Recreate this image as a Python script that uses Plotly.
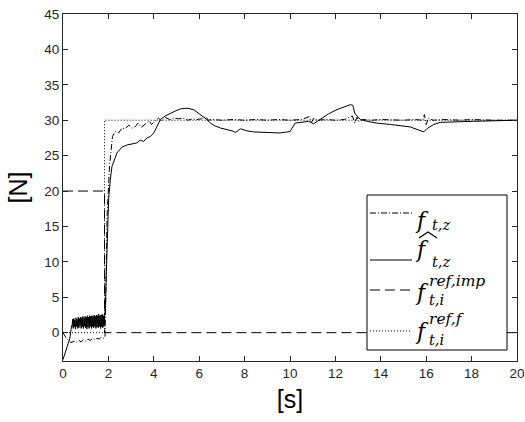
import plotly.graph_objects as go

# ---- data ----
t_ref_f = [0, 1.83, 1.83, 20]
v_ref_f = [0, 0, 30, 30]

t_ref_imp = [0, 1.83, 1.83, 20]
v_ref_imp = [20, 20, 0, 0]

t_meas = [0, 0.15, 0.35, 0.5, 0.6, 0.7, 0.8, 0.9, 1.0, 1.1, 1.2, 1.3, 1.4, 1.5, 1.6, 1.7, 1.8, 1.85,
          1.88, 1.94, 2.05, 2.18, 2.30, 2.45, 2.6, 2.74, 2.9, 3.05, 3.19, 3.3, 3.45, 3.63, 3.8, 3.9,
          4.07, 4.2, 4.35, 4.5, 4.7, 4.9, 5.1, 5.3, 5.5, 5.7, 5.9, 6.1, 6.3, 6.4, 6.6, 7.0, 7.5, 8.0,
          8.5, 9.0, 9.5, 10.0, 10.5, 10.85, 10.95, 11.05, 11.2, 11.6, 12.0, 12.4, 12.75, 12.85, 12.95,
          13.05, 13.2, 13.6, 14.0, 14.5, 15.0, 15.5, 15.85, 15.92, 16.0, 16.1, 16.3, 16.8, 17.5, 18.0,
          18.5, 19.0, 19.5, 20.0]
v_meas = [0, -0.8, -1.4, -1.2, -1.4, -1.1, -1.3, -1.0, -1.2, -0.9, -1.1, -0.8, -1.0, -0.8, -0.9, -0.6, -0.8, -0.5,
          3.75, 16.4, 23.5, 27.7, 28.4, 28.2, 28.9, 28.8, 29.3, 28.9, 29.1, 29.6, 29.0, 29.5, 29.9, 29.4,
          29.85, 30.3, 29.9, 30.4, 30.1, 30.3, 30.2, 30.3, 30.0, 30.2, 30.1, 30.2, 30.5, 30.0, 30.1, 30.0, 30.1, 30.0,
          30.1, 30.0, 30.1, 30.0, 30.1, 30.5, 29.7, 30.3, 30.0, 30.1, 30.0, 30.1, 30.6, 29.6, 30.4,
          29.8, 30.1, 30.0, 30.1, 30.0, 30.0, 30.1, 30.0, 30.8, 29.4, 30.3, 30.0, 30.1, 30.0, 30.1,
          30.0, 30.0, 30.0, 30.0]

t_est = [0, 0.15, 0.3, 0.38,
         0.400, 0.425, 0.450, 0.475, 0.500, 0.525, 0.550, 0.575, 0.600, 0.625, 0.650, 0.675,
         0.700, 0.725, 0.750, 0.775, 0.800, 0.825, 0.850, 0.875, 0.900, 0.925, 0.950, 0.975,
         1.000, 1.025, 1.050, 1.075, 1.100, 1.125, 1.150, 1.175, 1.200, 1.225, 1.250, 1.275,
         1.300, 1.325, 1.350, 1.375, 1.400, 1.425, 1.450, 1.475, 1.500, 1.525, 1.550, 1.575,
         1.600, 1.625, 1.650, 1.675, 1.700, 1.725, 1.750, 1.775, 1.800, 1.825,
         1.86, 1.94, 2.01, 2.08, 2.16, 2.38, 2.6, 2.82, 3.05, 3.26, 3.4, 3.55, 3.7, 3.85, 4.0,
         4.07, 4.2, 4.29, 4.5, 4.73, 4.95, 5.17, 5.46, 5.75, 6.05, 6.34, 6.49, 6.7, 6.93, 7.22,
         7.45, 7.59, 7.66, 7.81, 8.1, 8.4, 8.7, 9.0, 9.57, 10.0, 10.23, 10.5, 10.82, 11.04, 11.26,
         11.7, 12.07, 12.44, 12.66, 12.77, 12.85, 12.95, 13.1, 13.4, 13.8, 14.42, 15.3, 15.89,
         16.03, 16.33, 16.62, 18.09, 20.0]
v_est = [-3.8, -2.3, -0.8, 1.0,
         0.9, 1.9, 0.6, 2.0, 0.8, 1.8, 0.5, 2.1, 0.9, 1.9, 0.6, 2.2,
         0.7, 2.0, 1.0, 2.2, 0.6, 2.1, 0.8, 2.3, 0.6, 2.1, 0.9, 2.3,
         0.7, 2.2, 0.5, 2.4, 0.8, 2.2, 0.6, 2.4, 0.9, 2.3, 0.6, 2.4,
         0.8, 2.3, 0.7, 2.5, 0.9, 2.3, 0.6, 2.5, 0.8, 2.4, 0.7, 2.6,
         0.9, 2.4, 0.6, 2.5, 0.8, 2.6, 0.7, 2.4, 0.9, 2.6,
         3.0, 11.75, 18.8, 21.5, 23.5, 25.4, 26.2, 26.5, 26.7, 26.8, 27.2, 27.0, 27.5, 27.7, 28.2,
         28.7, 29.5, 30.1, 30.6, 31.0, 31.3, 31.6, 31.7, 31.5, 30.8, 30.1, 29.6, 29.2, 28.9, 28.7,
         28.5, 28.3, 28.4, 28.8, 28.5, 28.35, 28.3, 28.2, 28.2, 28.4, 29.6, 29.7, 29.85, 29.5, 30.0,
         30.9, 31.5, 32.0, 32.2, 32.1, 31.0, 30.6, 30.1, 29.85, 29.6, 29.4, 29.05, 28.35,
         28.8, 29.4, 29.7, 29.85, 30.0]

x_ticks = [0, 2, 4, 6, 8, 10, 12, 14, 16, 18, 20]
y_ticks = [0, 5, 10, 15, 20, 25, 30, 35, 40, 45]

# legend labels: (main symbol, superscript, subscript)
leg_main = ["f", "f", "f", "f"]
leg_sup = ["", "", "ref,imp", "ref,f"]
leg_sub = ["t,z", "t,z", "t,i", "t,i"]

DASH_MEAS = "6px,2px,1px,2px"
DASH_IMP = "10px,5px"
DASH_REF = "1px,2px"

fig = go.Figure()
fig.add_trace(go.Scatter(x=t_meas, y=v_meas, mode="lines",
                         line=dict(color="black", width=1, dash=DASH_MEAS)))
fig.add_trace(go.Scatter(x=t_est, y=v_est, mode="lines",
                         line=dict(color="black", width=1)))
fig.add_trace(go.Scatter(x=t_ref_imp, y=v_ref_imp, mode="lines",
                         line=dict(color="black", width=1, dash=DASH_IMP)))
fig.add_trace(go.Scatter(x=t_ref_f, y=v_ref_f, mode="lines",
                         line=dict(color="black", width=1, dash=DASH_REF)))

axis_common = dict(showline=True, linecolor="#262626", linewidth=1, mirror="ticks",
                   ticks="inside", ticklen=5, tickcolor="#262626", showgrid=False,
                   zeroline=False, automargin=False,
                   tickfont=dict(family="Liberation Sans", size=13.5, color="#262626"))

fig.update_xaxes(range=[0, 20], tickvals=x_ticks,
                 title=dict(text="[s]", font=dict(family="Liberation Sans", size=25, color="black"), standoff=10),
                 **axis_common)
fig.update_yaxes(range=[-4, 45], tickvals=y_ticks,
                 title=dict(text="[N]", font=dict(family="Liberation Sans", size=25, color="black"), standoff=9),
                 **axis_common)

# ---- manual legend (pixel layout -> paper coords) ----
L, R, T, B = 63, 517, 14, 361
def px(x):
    return (x - L) / (R - L)
def py(y):
    return (B - y) / (B - T)

shapes = [dict(type="rect", xref="paper", yref="paper", x0=px(367), x1=px(507), y0=py(350), y1=py(195),
               line=dict(color="black", width=1), fillcolor="white", layer="above")]
sample_y = [213, 260, 290, 331]
dashes = [DASH_MEAS, "solid", DASH_IMP, DASH_REF]
for sy, d in zip(sample_y, dashes):
    shapes.append(dict(type="line", xref="paper", yref="paper", x0=px(370), x1=px(412),
                       y0=py(sy), y1=py(sy), line=dict(color="black", width=1, dash=d), layer="above"))
# wide hat over the second entry
shapes.append(dict(type="path", xref="paper", yref="paper",
                   path="M {} {} L {} {} L {} {}".format(px(419), py(238), px(428), py(232), px(437), py(238)),
                   line=dict(color="black", width=1.2), layer="above"))

main_y = [220, 249, 292, 331]
sup_y = [0, 0, 281, 319]
sub_y = [225, 262, 300, 340]
sub_x = [431, 431, 428, 428]
serif = "DejaVu Serif"
annotations = []
for i in range(4):
    annotations.append(dict(xref="paper", yref="paper", x=px(414), y=py(main_y[i]), xanchor="left",
                            yanchor="middle", showarrow=False, borderpad=0, text="<i>" + leg_main[i] + "</i>",
                            font=dict(family=serif, size=22, color="black")))
    if leg_sup[i]:
        annotations.append(dict(xref="paper", yref="paper", x=px(428), y=py(sup_y[i]), xanchor="left",
                                yanchor="middle", showarrow=False, borderpad=0, text="<i>" + leg_sup[i] + "</i>",
                                font=dict(family=serif, size=15.5, color="black")))
    annotations.append(dict(xref="paper", yref="paper", x=px(sub_x[i]), y=py(sub_y[i]), xanchor="left",
                            yanchor="middle", showarrow=False, borderpad=0, text="<i>" + leg_sub[i] + "</i>",
                            font=dict(family=serif, size=14.5, color="black")))

fig.update_layout(
    width=525, height=422,
    margin=dict(l=L, r=525 - R, t=T, b=422 - B),
    plot_bgcolor="white", paper_bgcolor="white",
    showlegend=False,
    shapes=shapes,
    annotations=annotations,
)

fig.write_html("out.html")
